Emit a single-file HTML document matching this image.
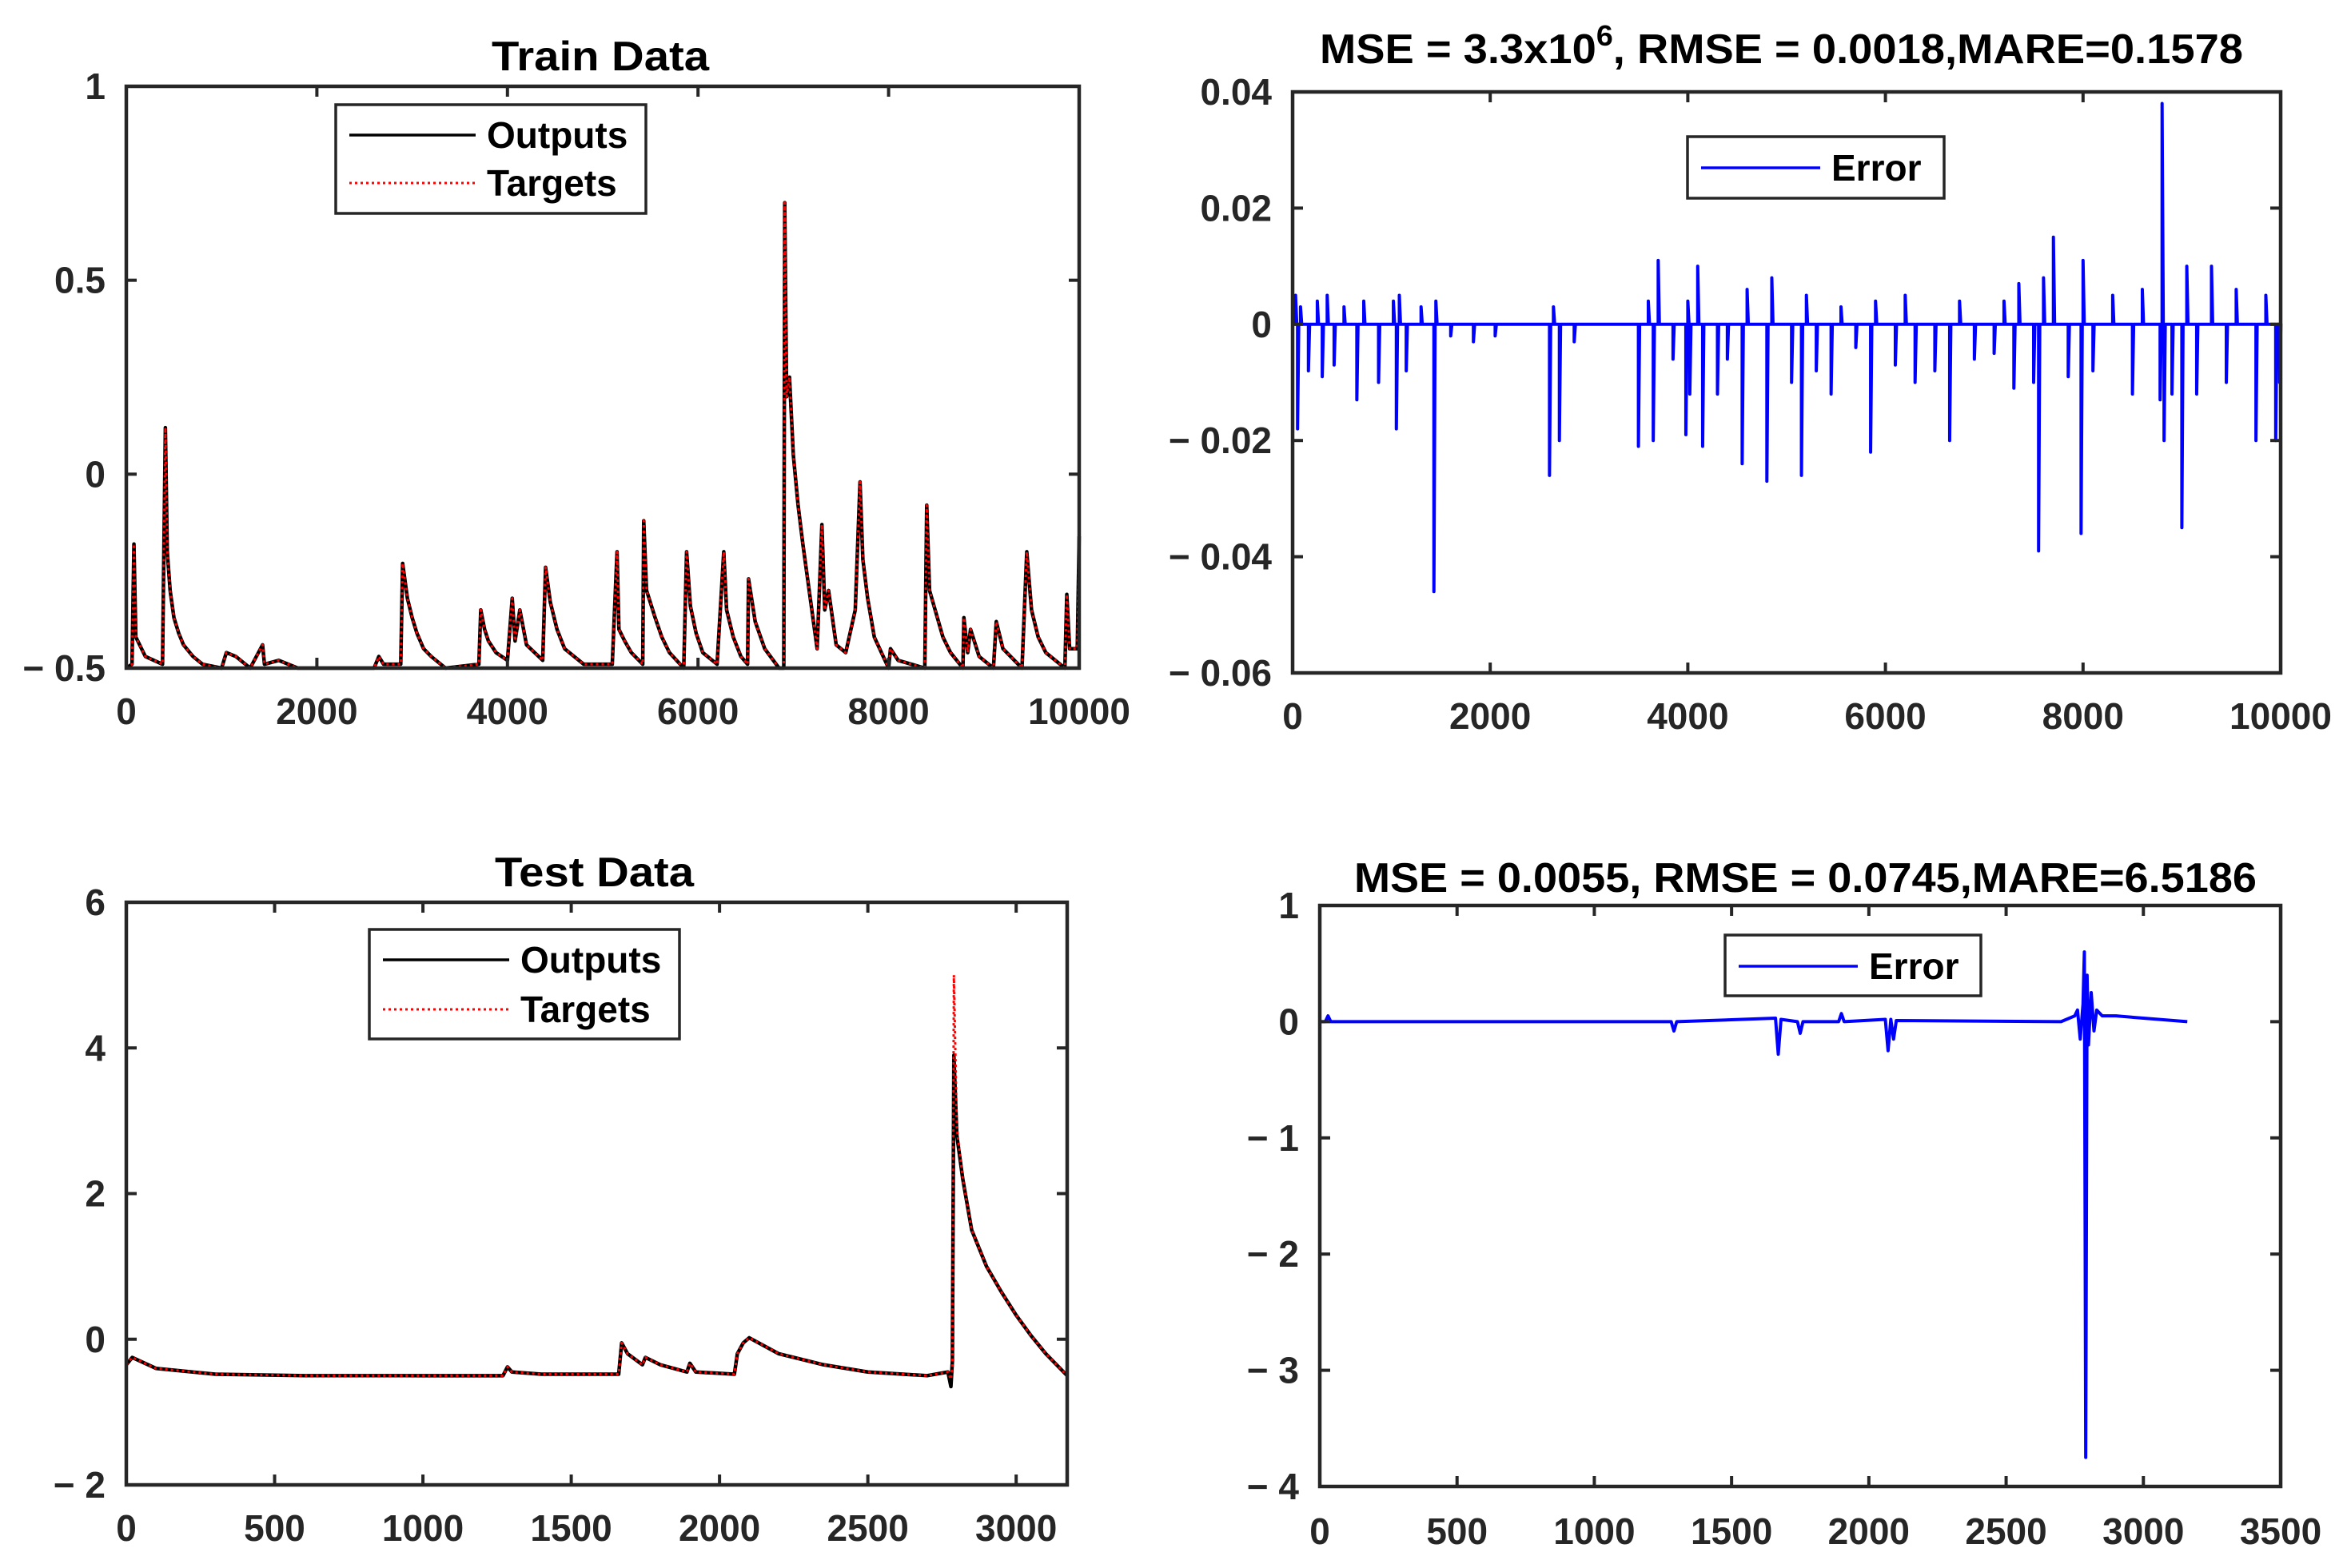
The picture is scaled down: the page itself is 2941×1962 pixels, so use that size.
<!DOCTYPE html>
<html><head><meta charset="utf-8">
<style>
html,body{margin:0;padding:0;background:#fff;}
svg{display:block;}
text{font-family:"Liberation Sans",Arial,sans-serif;font-weight:bold;fill:#000;}
.tick{font-size:46px;fill:#262626;}
</style></head>
<body>
<svg id="fig" width="2941" height="1962" viewBox="0 0 2941 1962" xmlns="http://www.w3.org/2000/svg"></svg>
<script>
// ---------- DATA ----------
const trainX = [0,60,80,100,200,380,410,430,460,500,550,600,700,800,1000,1050,1150,1300,1430,1450,1600,1800,2600,2650,2700,2880,2900,2950,3000,3050,3120,3200,3350,3700,3720,3760,3800,3880,4000,4050,4080,4130,4200,4370,4400,4450,4520,4600,4800,5100,5150,5170,5230,5300,5420,5430,5460,5550,5620,5700,5850,5880,5920,5980,6050,6200,6270,6300,6370,6450,6520,6530,6600,6700,6850,6900,6910,6930,6960,7000,7050,7100,7150,7200,7250,7300,7330,7370,7450,7550,7650,7700,7730,7780,7850,8000,8020,8100,8380,8400,8430,8500,8570,8650,8780,8790,8830,8860,8950,9100,9130,9200,9400,9450,9500,9570,9650,9850,9870,9900,9980,10000];
const trainY = [-0.5,-0.49,-0.18,-0.42,-0.47,-0.49,0.12,-0.2,-0.3,-0.37,-0.41,-0.44,-0.47,-0.49,-0.5,-0.46,-0.47,-0.5,-0.44,-0.49,-0.48,-0.5,-0.5,-0.47,-0.49,-0.49,-0.23,-0.32,-0.37,-0.41,-0.45,-0.47,-0.5,-0.49,-0.35,-0.4,-0.43,-0.46,-0.48,-0.32,-0.43,-0.35,-0.44,-0.48,-0.24,-0.33,-0.4,-0.45,-0.49,-0.49,-0.2,-0.4,-0.43,-0.46,-0.49,-0.12,-0.3,-0.37,-0.42,-0.46,-0.5,-0.2,-0.34,-0.41,-0.46,-0.49,-0.2,-0.35,-0.42,-0.47,-0.49,-0.27,-0.38,-0.45,-0.5,-0.5,0.7,0.2,0.25,0.05,-0.08,-0.18,-0.27,-0.36,-0.45,-0.13,-0.35,-0.3,-0.44,-0.46,-0.35,-0.02,-0.22,-0.32,-0.42,-0.5,-0.45,-0.48,-0.5,-0.08,-0.3,-0.36,-0.42,-0.46,-0.5,-0.37,-0.46,-0.4,-0.47,-0.5,-0.38,-0.45,-0.5,-0.2,-0.35,-0.42,-0.46,-0.5,-0.31,-0.45,-0.45,-0.16];
const trainTicksX = [0,2000,4000,6000,8000,10000];
const trainTicksY = [-0.5,0,0.5,1];
const trainTickLabelsY = ["\u2212 0.5","0","0.5","1"];

const err1X = [30,50,80,160,250,300,350,420,520,650,720,870,1020,1050,1080,1150,1300,1430,1450,1600,1830,2050,2600,2640,2700,2850,3500,3600,3650,3700,3850,3980,4000,4020,4100,4150,4300,4400,4550,4600,4800,4850,5050,5150,5200,5300,5450,5550,5700,5850,5900,6100,6200,6300,6500,6650,6750,6900,7100,7200,7300,7350,7500,7550,7600,7700,7850,7980,8000,8100,8300,8500,8600,8780,8800,8820,8900,9000,9050,9150,9300,9450,9550,9750,9850,9950,9990];
const err1Y = [0.005,-0.018,0.003,-0.008,0.004,-0.009,0.005,-0.007,0.003,-0.013,0.004,-0.01,0.004,-0.018,0.005,-0.008,0.003,-0.046,0.004,-0.002,-0.003,-0.002,-0.026,0.003,-0.02,-0.003,-0.021,0.004,-0.02,0.011,-0.006,-0.019,0.004,-0.012,0.01,-0.021,-0.012,-0.006,-0.024,0.006,-0.027,0.008,-0.01,-0.026,0.005,-0.008,-0.012,0.003,-0.004,-0.022,0.004,-0.007,0.005,-0.01,-0.008,-0.02,0.004,-0.006,-0.005,0.004,-0.011,0.007,-0.01,-0.039,0.008,0.015,-0.009,-0.036,0.011,-0.008,0.005,-0.012,0.006,-0.013,0.038,-0.02,-0.012,-0.035,0.01,-0.012,0.01,-0.01,0.006,-0.02,0.005,-0.02,-0.01];
const err1TicksX = [0,2000,4000,6000,8000,10000];
const err1TicksY = [-0.06,-0.04,-0.02,0,0.02,0.04];
const err1TickLabelsY = ["\u2212 0.06","\u2212 0.04","\u2212 0.02","0","0.02","0.04"];

const testX = [0,20,100,300,600,1000,1270,1285,1300,1400,1660,1670,1690,1740,1750,1800,1890,1900,1920,2050,2060,2080,2100,2200,2350,2500,2700,2770,2780,2785,2790,2800,2820,2850,2900,2950,3000,3050,3100,3172];
const testOut = [-0.35,-0.25,-0.4,-0.48,-0.5,-0.5,-0.5,-0.38,-0.45,-0.48,-0.48,-0.05,-0.2,-0.35,-0.25,-0.35,-0.45,-0.33,-0.45,-0.48,-0.2,-0.05,0.02,-0.2,-0.35,-0.45,-0.5,-0.45,-0.65,-0.3,3.9,2.8,2.2,1.5,1.0,0.65,0.33,0.05,-0.2,-0.5];
const testTgt = [-0.35,-0.25,-0.4,-0.48,-0.5,-0.5,-0.5,-0.38,-0.45,-0.48,-0.48,-0.05,-0.2,-0.35,-0.25,-0.35,-0.45,-0.33,-0.45,-0.48,-0.2,-0.05,0.02,-0.2,-0.35,-0.45,-0.5,-0.45,-0.55,-0.4,5.0,2.9,2.2,1.5,1.0,0.65,0.33,0.05,-0.2,-0.5];
const testTicksX = [0,500,1000,1500,2000,2500,3000];
const testTicksY = [-2,0,2,4,6];
const testTickLabelsY = ["\u2212 2","0","2","4","6"];

const err2X = [0,20,30,40,1280,1290,1300,1660,1670,1680,1740,1750,1760,1890,1900,1910,2060,2070,2080,2090,2100,2700,2750,2760,2770,2780,2785,2790,2795,2800,2810,2820,2830,2850,2900,3000,3160];
const err2Y = [0,0,0.05,0,0,-0.08,0,0.03,-0.28,0.02,0,-0.1,0,0,0.07,0,0.02,-0.25,0.02,-0.15,0.01,0,0.05,0.1,-0.15,0.15,0.6,-3.75,0.4,-0.2,0.25,-0.08,0.1,0.05,0.05,0.03,0];
const err2TicksX = [0,500,1000,1500,2000,2500,3000,3500];
const err2TicksY = [-4,-3,-2,-1,0,1];
const err2TickLabelsY = ["\u2212 4","\u2212 3","\u2212 2","\u2212 1","0","1"];

// ---------- DRAW ----------
const NS = "http://www.w3.org/2000/svg";
const fig = document.getElementById('fig');
function mk(tag, parent){ const e=document.createElementNS(NS,tag); parent.appendChild(e); return e; }
function setA(e, o){ for (const k in o) e.setAttribute(k, o[k]); }

function panel(cfg){
  const g = mk('g', fig);
  
  
  const sx = v => cfg.L + (v - cfg.xmin)/(cfg.xmax - cfg.xmin)*(cfg.R - cfg.L);
  const sy = v => cfg.B - (v - cfg.ymin)/(cfg.ymax - cfg.ymin)*(cfg.B - cfg.T);
  cfg.series.forEach(s => {
    const p = mk('polyline', g);
    
    
    let pts=[];
    if (s.spikes){
      pts.push(sx(cfg.xmin)+','+sy(0));
      s.x.forEach((x,i)=>{ pts.push(sx(x)+','+sy(0)); pts.push(sx(x)+','+sy(s.y[i])); pts.push((sx(x)+1.5)+','+sy(0)); });
      pts.push(sx(s.xEnd)+','+sy(0));
    } else {
      s.x.forEach((x,i)=>pts.push(sx(x)+','+sy(s.y[i])));
    }
    setA(p,{points:pts.join(' '),fill:'none',stroke:s.color,'stroke-width':s.w,'stroke-linejoin':'round'});
    if (s.dash) p.setAttribute('stroke-dasharray', s.dash);
  });
  const box = mk('rect', g);
  
  
  setA(box,{x:cfg.L,y:cfg.T,width:cfg.R-cfg.L,height:cfg.B-cfg.T,fill:'none',stroke:'#262626','stroke-width':4.5});
  cfg.ticksX.forEach(v=>{
    const X=sx(v);
    [[cfg.B,cfg.B-13],[cfg.T,cfg.T+13]].forEach(([a,b])=>{
      const l=mk('line',g);
      
      
      setA(l,{x1:X,x2:X,y1:a,y2:b,stroke:'#262626','stroke-width':4});
    });
    const t=mk('text',g);
    
    
    setA(t,{x:X,y:cfg.xLabY,'text-anchor':'middle',class:'tick'});
    t.textContent=String(v);
  });
  cfg.ticksY.forEach((v,i)=>{
    const Y=sy(v);
    [[cfg.L,cfg.L+13],[cfg.R,cfg.R-13]].forEach(([a,b])=>{
      const l=mk('line',g);
      
      
      setA(l,{x1:a,x2:b,y1:Y,y2:Y,stroke:'#262626','stroke-width':4});
    });
    const t=mk('text',g);
    
    
    setA(t,{x:cfg.L-26,y:Y+16,'text-anchor':'end',class:'tick'});
    t.textContent=cfg.labelsY[i];
  });
  const tt=mk('text',g);
  
  
  setA(tt,{x:cfg.title.x,y:cfg.title.y,'font-size':52,textLength:cfg.title.w,lengthAdjust:'spacingAndGlyphs'});
  tt.innerHTML=cfg.title.html;
  const lg=mk('g',g);
  
  
  const lb=mk('rect',lg);
  
  
  const Lg=cfg.legend;
  setA(lb,{x:Lg.x,y:Lg.y,width:Lg.w,height:Lg.h,fill:'#fff',stroke:'#262626','stroke-width':3.5});
  Lg.items.forEach((it,i)=>{
    const cy=Lg.y+Lg.row0+i*Lg.rowH;
    const l=mk('line',lg);
    
    
    setA(l,{x1:Lg.x+17,x2:Lg.x+Lg.sw,y1:cy,y2:cy,stroke:it.color,'stroke-width':it.w});
    if(it.dash) l.setAttribute('stroke-dasharray',it.dash);
    const t=mk('text',lg);
    
    
    setA(t,{x:Lg.x+Lg.sw+14,y:cy+16,'font-size':46});
    t.textContent=it.label;
  });
}

panel({name:'train-data-plot',L:158,R:1350,T:108,B:836,xmin:0,xmax:10000,ymin:-0.5,ymax:1,
  ticksX:trainTicksX,ticksY:trainTicksY,labelsY:trainTickLabelsY,xLabY:906,
  series:[{name:'outputs-line',x:trainX,y:trainY,color:'#000',w:4.5},
          {name:'targets-line',x:trainX,y:trainY,color:'#ff0000',w:3,dash:'3 4'}],
  title:{x:615,y:88,w:272,html:'Train Data'},
  legend:{x:420,y:131,w:388,h:136,row0:38,rowH:60,sw:175,items:[
    {label:'Outputs',color:'#000',w:3.5},{label:'Targets',color:'#ff0000',w:3,dash:'3 4'}]}
});
panel({name:'train-error-plot',L:1617,R:2853,T:115,B:842,xmin:0,xmax:10000,ymin:-0.06,ymax:0.04,
  ticksX:err1TicksX,ticksY:err1TicksY,labelsY:err1TickLabelsY,xLabY:912,
  series:[{name:'error-line',spikes:true,x:err1X,y:err1Y,xEnd:10000,color:'#0000ff',w:4}],
  title:{x:1651,y:79,w:1155,html:'MSE = 3.3x10<tspan dy="-22" font-size="36">6</tspan><tspan dy="22">, RMSE = 0.0018,MARE=0.1578</tspan>'},
  legend:{x:2111,y:171,w:321,h:77,row0:39,rowH:0,sw:166,items:[{label:'Error',color:'#0000ff',w:3.5}]}
});
panel({name:'test-data-plot',L:158,R:1335,T:1129,B:1858,xmin:0,xmax:3172,ymin:-2,ymax:6,
  ticksX:testTicksX,ticksY:testTicksY,labelsY:testTickLabelsY,xLabY:1928,
  series:[{name:'outputs-line',x:testX,y:testOut,color:'#000',w:4.5},
          {name:'targets-line',x:testX,y:testTgt,color:'#ff0000',w:3,dash:'3 4'}],
  title:{x:619,y:1109,w:249,html:'Test Data'},
  legend:{x:462,y:1163,w:388,h:137,row0:38,rowH:62,sw:175,items:[
    {label:'Outputs',color:'#000',w:3.5},{label:'Targets',color:'#ff0000',w:3,dash:'3 4'}]}
});
panel({name:'test-error-plot',L:1651,R:2853,T:1133,B:1860,xmin:0,xmax:3500,ymin:-4,ymax:1,
  ticksX:err2TicksX,ticksY:err2TicksY,labelsY:err2TickLabelsY,xLabY:1932,
  series:[{name:'error-line',spikes:false,x:err2X,y:err2Y,color:'#0000ff',w:4}],
  title:{x:1694,y:1116,w:1129,html:'MSE = 0.0055, RMSE = 0.0745,MARE=6.5186'},
  legend:{x:2158,y:1170,w:320,h:76,row0:39,rowH:0,sw:166,items:[{label:'Error',color:'#0000ff',w:3.5}]}
});
</script>
</body></html>
